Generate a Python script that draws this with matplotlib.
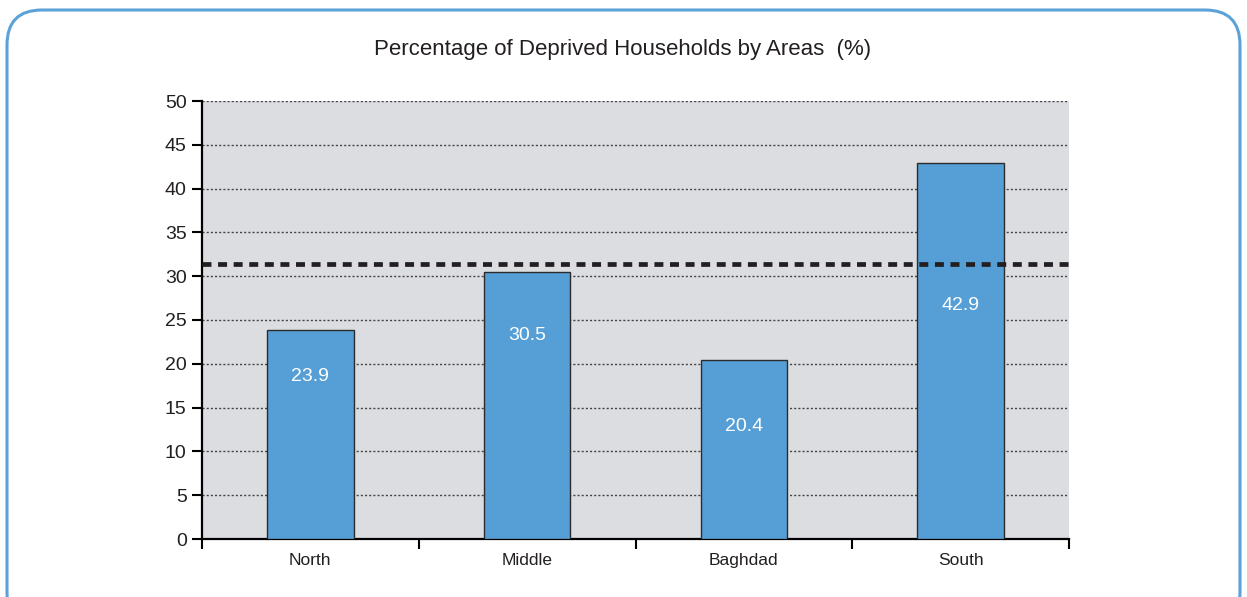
import numpy as np
import matplotlib.pyplot as plt
from matplotlib.patches import FancyBboxPatch

# Data
areas = ['North', 'Middle', 'Baghdad', 'South']
deprived = [23.9, 30.5, 20.4, 42.9]
national_avg = 31.4
# where the value labels sit inside each bar (data units)
label_y = [18.6, 23.2, 12.8, 26.6]

plt.rcParams['font.family'] = ['Liberation Sans', 'DejaVu Sans']

fig = plt.figure(figsize=(12.47, 5.97), dpi=100)

# Rounded light-blue frame around the whole chart (behind the axes)
frame = FancyBboxPatch((7 / 1247, -0.05), 1233 / 1247, 1 - 10 / 597 + 0.05,
                       boxstyle='round,pad=0,rounding_size=0.028',
                       transform=fig.transFigure, facecolor='none',
                       edgecolor='#5ba2d8', linewidth=2.2, zorder=-10,
                       mutation_aspect=1247 / 597)
fig.patches.append(frame)

ax = fig.add_axes([202 / 1247, 1 - 539 / 597, 867 / 1247, 438 / 597])
ax.set_facecolor('#dcdde0')

x = np.arange(len(areas))
ax.bar(x, deprived, width=0.4, color='#569fd6', edgecolor='#2b2b2b',
       linewidth=1.0, zorder=3)

for xi, yi, v in zip(x, label_y, deprived):
    ax.text(xi, yi, f'{v}', ha='center', va='center', color='white',
            fontsize=14, zorder=5)

# Average line drawn over the bars
ax.axhline(national_avg, color='#231f20', linewidth=3.4,
           dashes=(1.9, 1.4), zorder=4)

ax.set_xlim(-0.5, len(areas) - 0.5)
ax.set_ylim(0, 50)
ax.set_yticks(range(0, 51, 5))
ax.yaxis.grid(True, linestyle=(0, (1.5, 1.5)), color='#444444',
              linewidth=1.0, zorder=1)
ax.set_axisbelow(True)

ax.set_xticks(x)
ax.set_xticklabels(areas, fontsize=12.5, color='#231f20')
ax.set_xticks(np.arange(-0.5, len(areas)), minor=True)
ax.tick_params(axis='x', which='major', length=0, pad=10)
ax.tick_params(axis='x', which='minor', length=7, width=1.5,
               direction='out')
ax.tick_params(axis='y', length=7, width=1.5, labelsize=14, pad=4,
               labelcolor='#231f20')

for side in ['top', 'right']:
    ax.spines[side].set_visible(False)
for side in ['left', 'bottom']:
    ax.spines[side].set_linewidth(1.6)
    ax.spines[side].set_color('black')

fig.text(623 / 1247, 1 - 50 / 597,
         'Percentage of Deprived Households by Areas  (%)',
         ha='center', va='center', fontsize=16, color='#231f20')

fig.savefig('out.png', dpi=100)
